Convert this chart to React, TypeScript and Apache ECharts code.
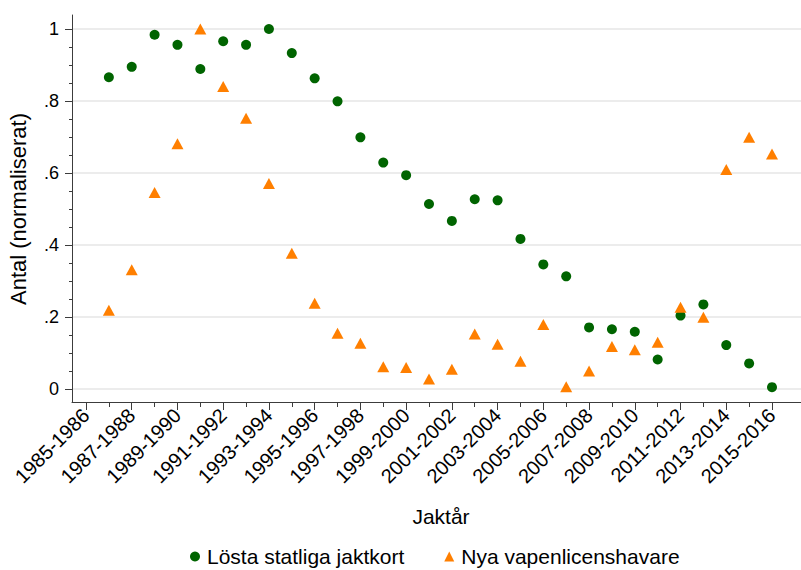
import React, { useEffect, useRef } from "react";
import * as echarts from "echarts";

const seasons = [
  "1985-1986", "1986-1987", "1987-1988", "1988-1989", "1989-1990", "1990-1991",
  "1991-1992", "1992-1993", "1993-1994", "1994-1995", "1995-1996", "1996-1997",
  "1997-1998", "1998-1999", "1999-2000", "2000-2001", "2001-2002", "2002-2003",
  "2003-2004", "2004-2005", "2005-2006", "2006-2007", "2007-2008", "2008-2009",
  "2009-2010", "2010-2011", "2011-2012", "2012-2013", "2013-2014", "2014-2015",
  "2015-2016",
];

const lostaJaktkort: (number | null)[] = [
  null, 0.866, 0.895, 0.984, 0.956, 0.889, 0.966, 0.956, 1.0, 0.933, 0.863,
  0.799, 0.699, 0.629, 0.594, 0.514, 0.467, 0.527, 0.524, 0.417, 0.346,
  0.313, 0.171, 0.166, 0.159, 0.082, 0.204, 0.235, 0.122, 0.071, 0.005,
];

const nyaVapenlicens: (number | null)[] = [
  null, 0.219, 0.331, 0.546, 0.681, 1.0, 0.84, 0.752, 0.571, 0.377, 0.238,
  0.155, 0.127, 0.062, 0.06, 0.028, 0.055, 0.153, 0.124, 0.077, 0.179,
  0.006, 0.05, 0.118, 0.109, 0.13, 0.227, 0.199, 0.61, 0.699, 0.653,
];

const yTicks = [0, 0.2, 0.4, 0.6, 0.8, 1];

const seriesNames = ["Lösta statliga jaktkort", "Nya vapenlicenshavare"];

const FONT = "'Liberation Sans', Arial, sans-serif";
const AXIS_COLOR = "#3c3c3c";

function toPoints(vals: (number | null)[]) {
  const out: [number, number][] = [];
  vals.forEach((v, i) => {
    if (v !== null) out.push([i, v]);
  });
  return out;
}

export default function App() {
  const ref = useRef<HTMLDivElement>(null);
  useEffect(() => {
    if (!ref.current) return;
    const chart = echarts.init(ref.current, undefined, { renderer: "svg" });
    const option: any = {
      animation: false,
      backgroundColor: "#ffffff",
      textStyle: { fontFamily: FONT },
      grid: [
        { left: 72, right: 0, top: 15, bottom: 168, outerBoundsMode: "none", containLabel: false },
        { left: 72, right: 0, top: 29, bottom: 181, outerBoundsMode: "none", containLabel: false },
        { left: 86, right: 29, top: 29, bottom: 181, outerBoundsMode: "none", containLabel: false },
      ],
      xAxis: [
        {
          gridIndex: 0, type: "value", min: 0, max: 1,
          axisLine: { show: true, lineStyle: { color: AXIS_COLOR, width: 1 } },
          axisTick: { show: false }, axisLabel: { show: false }, splitLine: { show: false },
        },
        { gridIndex: 1, type: "value", min: 0, max: 1, show: false },
        {
          gridIndex: 2, type: "value", min: 0, max: seasons.length - 1, interval: 2,
          position: "bottom", offset: 13,
          axisLine: { show: false, onZero: false },
          axisTick: { show: true, length: 8, lineStyle: { color: AXIS_COLOR, width: 1 } },
          minorTick: { show: true, splitNumber: 2, length: 5, lineStyle: { color: AXIS_COLOR, width: 1 } },
          splitLine: { show: false },
          axisLabel: {
            show: true, rotate: 45, margin: 10, fontSize: 20, color: "#000",
            fontFamily: FONT,
            formatter: (v: number) => seasons[Math.round(v)] ?? "",
          },
        },
      ],
      yAxis: [
        {
          gridIndex: 0, type: "value", min: 0, max: 1,
          axisLine: { show: true, lineStyle: { color: AXIS_COLOR, width: 1 } },
          axisTick: { show: false }, axisLabel: { show: false }, splitLine: { show: false },
        },
        {
          gridIndex: 1, type: "value", min: yTicks[0], max: yTicks[yTicks.length - 1], interval: 0.2,
          axisLine: { show: false },
          axisTick: { show: true, length: 7, lineStyle: { color: AXIS_COLOR, width: 1 } },
          minorTick: { show: true, splitNumber: 4, length: 3, lineStyle: { color: AXIS_COLOR, width: 1 } },
          splitLine: { show: true, lineStyle: { color: "#e6e6e6", width: 1.5 } },
          axisLabel: {
            show: true, margin: 13, fontSize: 18, color: "#000", fontFamily: FONT,
            formatter: (v: number) => {
              const r = Math.round(v * 10) / 10;
              if (r === 0) return "0";
              if (r === 1) return "1";
              return r.toString().replace(/^0\./, ".");
            },
          },
        },
        { gridIndex: 2, type: "value", min: 0, max: 1, show: false },
      ],
      legend: {
        left: 185, top: 541, itemWidth: 10, itemHeight: 10, itemGap: 40,
        textStyle: { fontSize: 21, color: "#000", fontFamily: FONT, padding: [0, 0, 0, 2] },
        data: [
          { name: seriesNames[0], icon: "circle", itemStyle: { color: "#006400" } },
          { name: seriesNames[1], icon: "triangle", itemStyle: { color: "#ff7f00" } },
        ],
      },
      graphic: [
        {
          type: "text", x: 18, y: 209, rotation: Math.PI / 2,
          style: {
            text: "Antal (normaliserat)", fontSize: 22, fontFamily: FONT, fill: "#000",
            textAlign: "center", textVerticalAlign: "middle",
          },
        },
        {
          type: "text", x: 441, y: 516,
          style: {
            text: "Jaktår", fontSize: 21, fontFamily: FONT, fill: "#000",
            textAlign: "center", textVerticalAlign: "middle",
          },
        },
      ],
      series: [
        {
          name: seriesNames[0], type: "scatter", xAxisIndex: 2, yAxisIndex: 2,
          symbol: "circle", symbolSize: 10,
          itemStyle: { color: "#006400", opacity: 1 },
          data: toPoints(lostaJaktkort),
        },
        {
          name: seriesNames[1], type: "scatter", xAxisIndex: 2, yAxisIndex: 2,
          symbol: "triangle", symbolSize: [12, 11],
          itemStyle: { color: "#ff7f00", opacity: 1 },
          data: toPoints(nyaVapenlicens),
        },
      ],
    };
    chart.setOption(option);
    return () => chart.dispose();
  }, []);
  return (
    <div
      ref={ref}
      style={{ position: "fixed", left: 0, top: 0, width: 801, height: 570 }}
    />
  );
}
